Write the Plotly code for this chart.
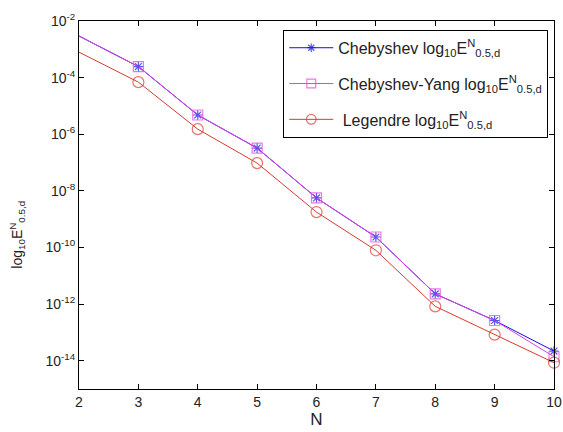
import plotly.graph_objects as go

N = [2, 3, 4, 5, 6, 7, 8, 9, 10]
log_cheb = [-2.53, -3.61, -5.32, -6.49, -8.25, -9.63, -11.64, -12.58, -13.66]
log_yang = [-2.53, -3.61, -5.32, -6.49, -8.25, -9.63, -11.64, -12.58, -13.86]
log_leg = [-3.10, -4.16, -5.82, -7.02, -8.75, -10.10, -12.08, -13.08, -14.07]

cheb = [10 ** v for v in log_cheb]
yang = [10 ** v for v in log_yang]
leg = [10 ** v for v in log_leg]

ytick_exp = [-2, -4, -6, -8, -10, -12, -14]
ytick_vals = [10 ** e for e in ytick_exp]
ytick_text = [f"10<sup>{e}</sup>" for e in ytick_exp]

sub = "log<sub>10</sub>E<sup>N</sup><sub>0.5,d</sub>"
msize = lambda s: [0] + [s] * (len(N) - 1)

fig = go.Figure()
fig.add_trace(go.Scatter(
    x=N, y=cheb, mode="lines+markers", name="Chebyshev " + sub, legendgroup="a",
    line=dict(color="#1010e0", width=1),
    marker=dict(symbol="asterisk-open", size=msize(8), color="#1010e0",
                line=dict(color="#1010e0", width=1.2)),
    cliponaxis=False))
fig.add_trace(go.Scatter(
    x=N, y=yang, mode="lines+markers", name="Chebyshev-Yang " + sub, legendgroup="b",
    line=dict(color="#e040e0", width=1),
    marker=dict(symbol="square-open", size=msize(10), color="#e040e0",
                line=dict(color="#e040e0", width=1.2)),
    cliponaxis=False))
fig.add_trace(go.Scatter(
    x=N, y=leg, mode="lines+markers", name=" Legendre " + sub, legendgroup="c",
    line=dict(color="#d83a30", width=1),
    marker=dict(symbol="circle-open", size=msize(11), color="#d83a30",
                line=dict(color="#d83a30", width=1.2)),
    cliponaxis=False))

axis_common = dict(showline=True, linecolor="black", linewidth=1, mirror="ticks",
                   ticks="inside", ticklen=5, tickcolor="black", showgrid=False,
                   zeroline=False, automargin=False,
                   tickfont=dict(size=14, color="#222"))

fig.update_layout(
    width=563, height=432,
    margin=dict(l=79, r=9, t=21, b=43),
    paper_bgcolor="white", plot_bgcolor="white",
    font=dict(family="Liberation Sans, Arial, sans-serif", size=14, color="#222"),
    showlegend=True,
    legend=dict(x=0.43, y=0.976, xanchor="left", yanchor="top",
                bordercolor="black", borderwidth=1, bgcolor="white",
                font=dict(size=16), tracegroupgap=12, itemwidth=44),
    xaxis=dict(range=[2, 10], tickvals=N, title=dict(text="N", standoff=2),
               **axis_common),
    yaxis=dict(type="log", range=[-15, -2], tickvals=ytick_vals, ticktext=ytick_text,
               **axis_common),
    annotations=[dict(text=sub, textangle=-90, xref="paper", yref="paper",
                      x=-0.13, y=0.42, xanchor="center", yanchor="middle",
                      showarrow=False, font=dict(size=14, color="#222"))],
)

fig.write_html("out.html")
